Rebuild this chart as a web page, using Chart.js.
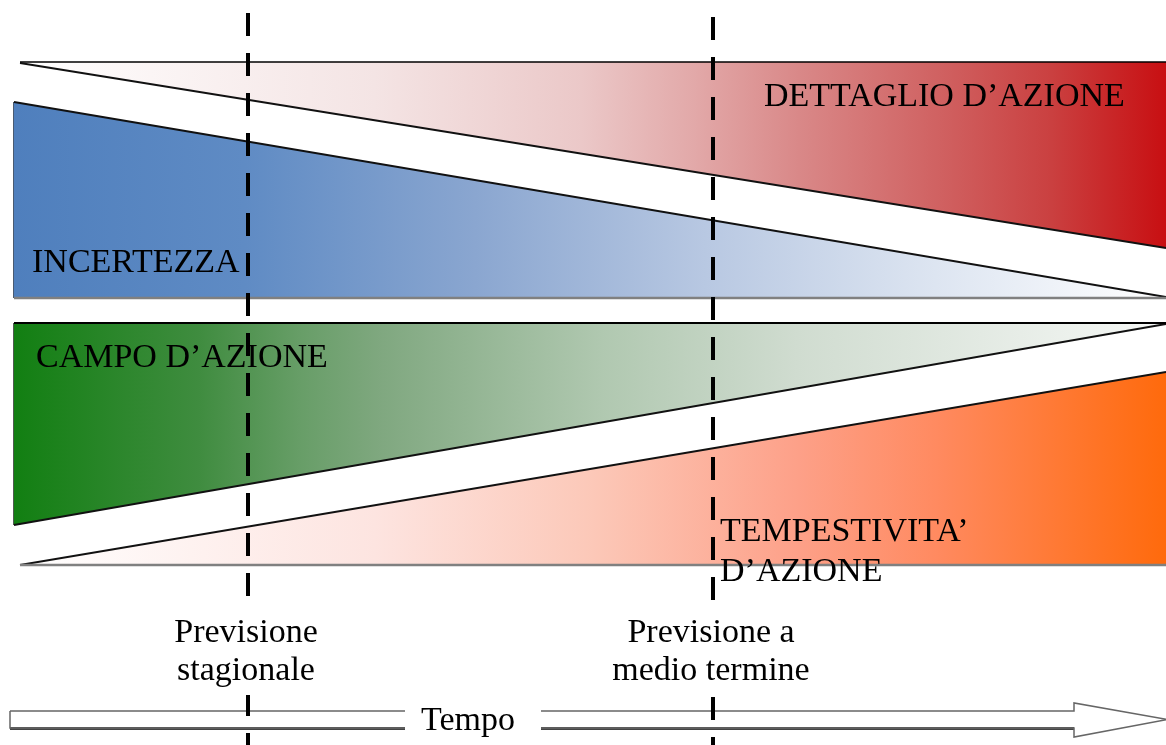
<!DOCTYPE html>
<html>
<head>
<meta charset="utf-8">
<script src="https://cdn.jsdelivr.net/npm/chart.js@4.4.1/dist/chart.umd.min.js"></script>
<style>
html,body{margin:0;padding:0;background:#fff;}
#wrap{width:1166px;height:745px;position:relative;}
</style>
</head>
<body>
<div id="wrap"><canvas id="c"></canvas></div>
<script>
// ---- diagram data (time on x, level on y; y grows downward) ----
const timeEnd = 1166;
const wedgeLabels = ["DETTAGLIO D\u2019AZIONE", "INCERTEZZA", "CAMPO D\u2019AZIONE", ["TEMPESTIVITA\u2019", "D\u2019AZIONE"]];
const wedgeStart = [20, 14, 14, 20];
const dettaglioTop = [62, 62];
const dettaglioBottom = [63, 248];
const incertezzaTop = [102, 297];
const incertezzaBottom = [298, 298];
const campoTop = [323, 323];
const campoBottom = [525, 324];
const tempestivitaTop = [565, 372];
const tempestivitaBottom = [565, 565];
const forecastTimes = [248, 713];
const forecastLabels = [["Previsione", "stagionale"], ["Previsione a", "medio termine"]];
const axisLabel = "Tempo";
const arrowStart = 10;
const arrowHeadStart = 1074;
const arrowTip = 1167;
const arrowBody = [711, 728];
const arrowHead = [703, 737];

const SERIF = '"Liberation Serif", "DejaVu Serif", serif';

function seg(x0, y0, x1, y1) { return [{x: x0, y: y0}, {x: x1, y: y1}]; }

function grad(stops, x0) {
  return (ctx) => {
    const chart = ctx.chart;
    if (!chart.chartArea) return 'rgba(0,0,0,0)';
    const xs = chart.scales.x;
    const g = chart.ctx.createLinearGradient(xs.getPixelForValue(x0), 0, xs.getPixelForValue(timeEnd), 0);
    stops.forEach(s => g.addColorStop(s[0], s[1]));
    return g;
  };
}

const redStops = [[0, '#ffffff'], [0.31, '#f4e4e4'], [0.49, '#ebc8c8'], [0.59, '#e2a8a8'], [0.68, '#d98888'], [0.8, '#d06262'], [0.9, '#ca4040'], [1, '#c80f12']];
const blueStops = [[0, '#4f7fbd'], [0.2, '#5f8bc4'], [0.4, '#8aa6d0'], [0.6, '#b8c8e2'], [0.8, '#dde5f1'], [1, '#ffffff']];
const greenStops = [[0, '#127f12'], [0.16, '#3f8c3f'], [0.25, '#689e68'], [0.32, '#80a880'], [0.51, '#b0c8b0'], [0.68, '#d0dcd0'], [1, '#f6f8f6']];
const orangeStops = [[0, '#ffffff'], [0.31, '#fde4e0'], [0.5, '#fcc8b8'], [0.68, '#fda088'], [0.8, '#ff8a60'], [1, '#ff6a0c']];

const base = {showLine: true, pointRadius: 0, tension: 0, fill: false, order: 2};

const datasets = [
  // dashed forecast lines (drawn on top)
  Object.assign({}, base, {data: seg(forecastTimes[0], 13, forecastTimes[0], 745), borderColor: '#000', borderWidth: 4, borderDash: [23, 17], order: 0}),
  Object.assign({}, base, {data: seg(forecastTimes[1], 17, forecastTimes[1], 745), borderColor: '#000', borderWidth: 4, borderDash: [23, 17], order: 0}),
  // 2: DETTAGLIO top
  Object.assign({}, base, {data: seg(wedgeStart[0], dettaglioTop[0], timeEnd, dettaglioTop[1]), borderColor: '#000', borderWidth: 1.5}),
  // 3: DETTAGLIO bottom (fill to 2)
  Object.assign({}, base, {data: seg(wedgeStart[0], dettaglioBottom[0], timeEnd, dettaglioBottom[1]), borderColor: '#111', borderWidth: 1.8, fill: {target: 2}, backgroundColor: grad(redStops, wedgeStart[0])}),
  // 4: INCERTEZZA bottom
  Object.assign({}, base, {data: seg(wedgeStart[1], incertezzaBottom[0], timeEnd, incertezzaBottom[1]), borderColor: '#808080', borderWidth: 2.5}),
  // 5: INCERTEZZA top (fill to 4)
  Object.assign({}, base, {data: seg(wedgeStart[1], incertezzaTop[0], timeEnd, incertezzaTop[1]), borderColor: '#111', borderWidth: 1.8, fill: {target: 4}, backgroundColor: grad(blueStops, wedgeStart[1])}),
  // 6: INCERTEZZA left edge
  Object.assign({}, base, {data: seg(wedgeStart[1], incertezzaTop[0], wedgeStart[1], incertezzaBottom[0]), borderColor: '#4a5a70', borderWidth: 2}),
  // 7: CAMPO top
  Object.assign({}, base, {data: seg(wedgeStart[2], campoTop[0], timeEnd, campoTop[1]), borderColor: '#000', borderWidth: 2}),
  // 8: CAMPO bottom (fill to 7)
  Object.assign({}, base, {data: seg(wedgeStart[2], campoBottom[0], timeEnd, campoBottom[1]), borderColor: '#111', borderWidth: 1.8, fill: {target: 7}, backgroundColor: grad(greenStops, wedgeStart[2])}),
  // 9: CAMPO left edge
  Object.assign({}, base, {data: seg(wedgeStart[2], campoTop[0], wedgeStart[2], campoBottom[0]), borderColor: '#505a50', borderWidth: 2}),
  // 10: TEMPESTIVITA bottom
  Object.assign({}, base, {data: seg(wedgeStart[3], tempestivitaBottom[0], timeEnd, tempestivitaBottom[1]), borderColor: '#808080', borderWidth: 2.5}),
  // 11: TEMPESTIVITA top (fill to 10)
  Object.assign({}, base, {data: seg(wedgeStart[3], tempestivitaTop[0], timeEnd, tempestivitaTop[1]), borderColor: '#111', borderWidth: 1.8, fill: {target: 10}, backgroundColor: grad(orangeStops, wedgeStart[3])}),
  // 12: time arrow outline
  Object.assign({}, base, {data: [
      {x: arrowStart, y: arrowBody[0]}, {x: arrowHeadStart, y: arrowBody[0]}, {x: arrowHeadStart, y: arrowHead[0]},
      {x: arrowTip, y: (arrowBody[0] + arrowBody[1]) / 2}, {x: arrowHeadStart, y: arrowHead[1]}, {x: arrowHeadStart, y: arrowBody[1]},
      {x: arrowStart, y: arrowBody[1]}, {x: arrowStart, y: arrowBody[0]}], borderColor: '#666', borderWidth: 1.5}),
  // 13: arrow shadow bottom
  Object.assign({}, base, {data: seg(arrowStart, arrowBody[1] + 0.5, arrowHeadStart, arrowBody[1] + 0.5), borderColor: '#444', borderWidth: 3})
];

const textPlugin = {
  id: 'texts',
  afterDraw(chart) {
    const ctx = chart.ctx, xs = chart.scales.x, ys = chart.scales.y;
    ctx.save();
    ctx.fillStyle = '#000';
    ctx.textBaseline = 'alphabetic';
    ctx.font = '34px ' + SERIF;
    ctx.textAlign = 'left';
    ctx.fillText(wedgeLabels[0], xs.getPixelForValue(764), ys.getPixelForValue(106));
    ctx.fillText(wedgeLabels[1], xs.getPixelForValue(32), ys.getPixelForValue(272));
    ctx.fillText(wedgeLabels[2], xs.getPixelForValue(36), ys.getPixelForValue(367));
    ctx.fillText(wedgeLabels[3][0], xs.getPixelForValue(720), ys.getPixelForValue(541));
    ctx.fillText(wedgeLabels[3][1], xs.getPixelForValue(720), ys.getPixelForValue(581));
    ctx.textAlign = 'center';
    forecastLabels.forEach((lines, i) => {
      const cx = xs.getPixelForValue(forecastTimes[i] - 2);
      const w = Math.max(...lines.map(t => ctx.measureText(t).width)) + 16;
      ctx.fillStyle = '#fff';
      ctx.fillRect(cx - w / 2, ys.getPixelForValue(607), w, ys.getPixelForValue(695) - ys.getPixelForValue(607));
      ctx.fillStyle = '#000';
      lines.forEach((t, j) => ctx.fillText(t, cx, ys.getPixelForValue(642 + j * 38)));
    });
    // Tempo label on the arrow
    ctx.fillStyle = '#fff';
    ctx.fillRect(xs.getPixelForValue(405), ys.getPixelForValue(700), 136, 38);
    ctx.fillStyle = '#000';
    ctx.fillText(axisLabel, xs.getPixelForValue(468), ys.getPixelForValue(730));
    ctx.restore();
  }
};

new Chart(document.getElementById('c'), {
  type: 'scatter',
  data: {datasets},
  options: {
    responsive: true,
    maintainAspectRatio: false,
    animation: false,
    layout: {padding: 0},
    plugins: {legend: {display: false}, tooltip: {enabled: false}},
    scales: {
      x: {type: 'linear', min: 0, max: timeEnd, display: false},
      y: {type: 'linear', min: 0, max: 745, reverse: true, display: false}
    }
  },
  plugins: [textPlugin]
});
</script>
</body>
</html>
